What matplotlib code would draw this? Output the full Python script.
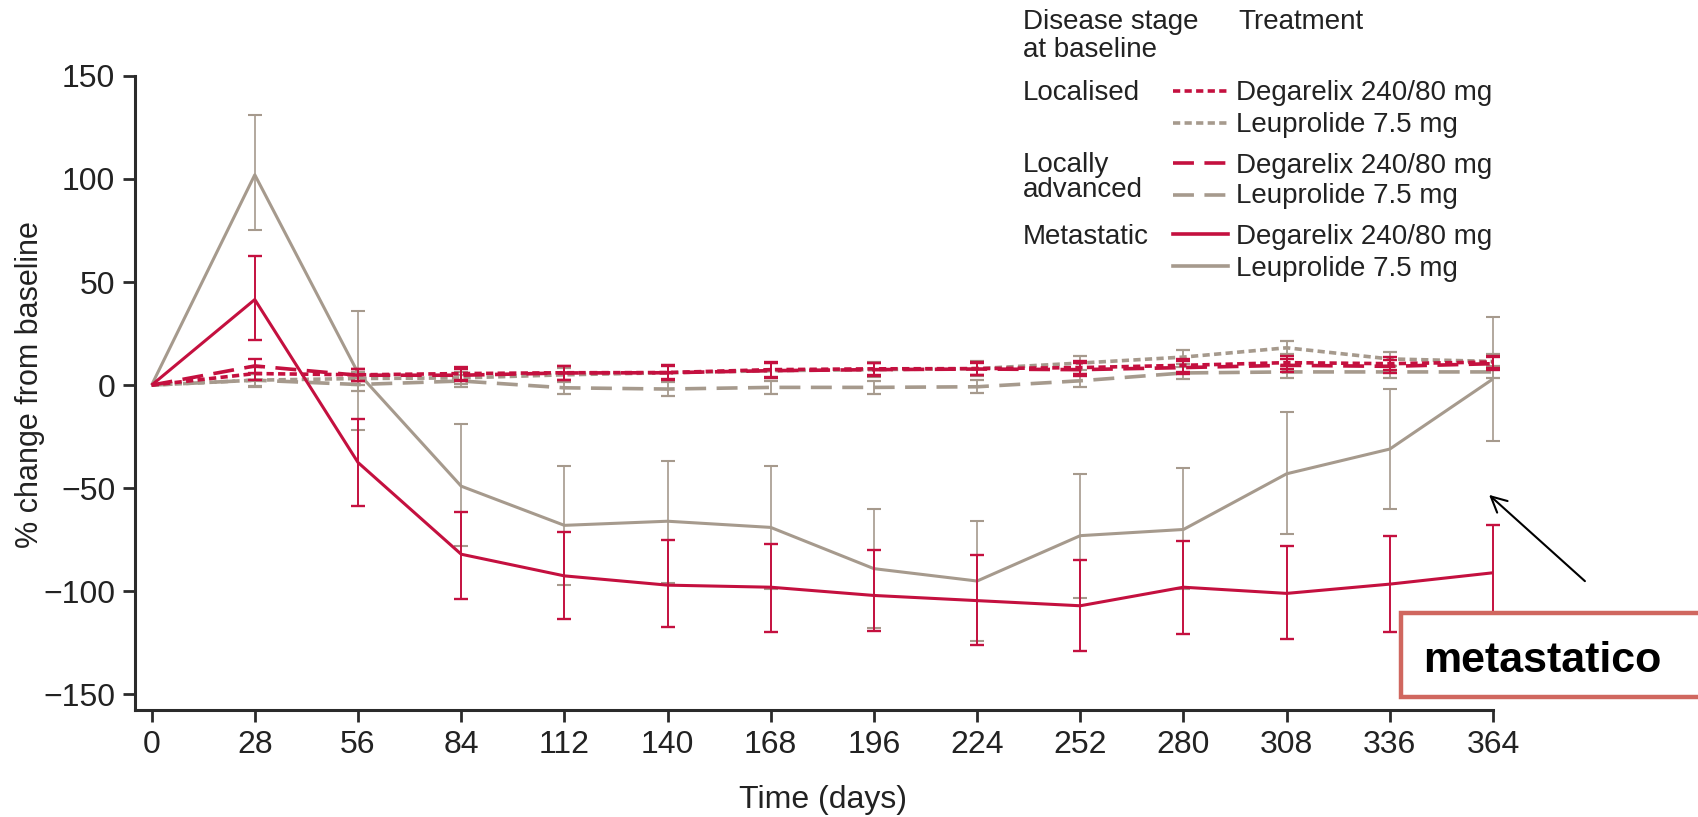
import matplotlib
matplotlib.use("Agg")
import matplotlib.pyplot as plt
from matplotlib.lines import Line2D
from matplotlib.patches import Rectangle

plt.rcParams['font.family'] = ['Liberation Sans', 'DejaVu Sans']

# ---- data ----
days = [0, 28, 56, 84, 112, 140, 168, 196, 224, 252, 280, 308, 336, 364]

met_leu = [0, 102, 6, -49, -68, -66, -69, -89, -95, -73, -70, -43, -31, 3]
met_leu_lo = [0, 75, -22, -78, -97, -96, -99, -118, -124, -103, -99, -72, -60, -27]
met_leu_hi = [0, 131, 36, -19, -39, -37, -39, -60, -66, -43, -40, -13, -2, 33]

met_deg = [0, 41.5, -37.5, -82, -92.5, -97, -98, -102, -104.5, -107, -98, -101, -96.5, -91]
met_deg_lo = [0, 22, -58.5, -103.5, -113.5, -117.5, -119.5, -119, -126, -129, -120.5, -123, -119.5, -113]
met_deg_hi = [0, 62.5, -16.5, -61.5, -71, -75, -77, -80, -82.5, -85, -75.5, -78, -73, -68]

loc_deg = [0, 5.6, 5, 5.6, 6, 6.1, 7.5, 7.9, 8, 8.5, 9.6, 10.9, 10.4, 11.2]
loc_deg_err = [0, 3, 3, 3, 3.5, 3.5, 3.5, 3, 3, 3, 3, 3, 3, 3]
loc_leu = [0, 2.4, 3.2, 3.5, 5, 6, 7, 7.5, 8, 10.7, 13.6, 18.1, 12.7, 11.5]
loc_leu_err = [0, 3, 3, 3, 3.5, 3.8, 3.5, 3.5, 3.5, 3.5, 3.2, 3.2, 3.3, 3.5]
la_deg = [0, 9.3, 4.8, 4.8, 5.9, 6, 7, 7.5, 7.8, 7.5, 8.5, 9.6, 9.1, 10.4]
la_deg_err = [0, 3.2, 3, 3, 3.2, 3.2, 3.5, 3.2, 3, 3, 3.2, 3.2, 3, 3]
la_leu = [0, 2.4, 0.3, 2, -1.3, -1.9, -1.1, -1.1, -0.8, 2.1, 5.9, 6.4, 6.4, 6.4]
la_leu_err = [0, 3.2, 3.2, 3, 3.2, 3.6, 3.2, 3.2, 3.2, 3.2, 3, 3, 3, 3]

y_ticks = [150, 100, 50, 0, -50, -100, -150]
x_ticks = days

stage_labels = ["Localised", "Locally", "advanced", "Metastatic"]
treat_labels = ["Degarelix 240/80 mg", "Leuprolide 7.5 mg"]

# ---- style ----
RED = '#C4103F'
TAN = '#A69A8D'
DOT = (0, (2.0, 1.2))
DASH = (0, (5.8, 2.9))

W, H = 1699, 817
fig = plt.figure(figsize=(W / 100, H / 100), dpi=100)
ax = fig.add_axes([135.4 / W, 1 - 709.7 / H, (1493 - 135.4) / W, (709.7 - 75.8) / H])


def draw(ax, y, lo, hi, color, ls, lw, elw, z):
    ax.plot(days, y, color=color, ls=ls, lw=lw, zorder=z, clip_on=False,
            dash_capstyle='butt', solid_capstyle='butt')
    xe = days[1:]
    ye = y[1:]
    yerr = [[a - b for a, b in zip(ye, lo[1:])], [b - a for a, b in zip(ye, hi[1:])]]
    ax.errorbar(xe, ye, yerr=yerr, fmt='none', ecolor=color, elinewidth=elw,
                capsize=5, capthick=elw + 0.3, zorder=z, clip_on=False)


def sym(y, e):
    return [a - b for a, b in zip(y, e)], [a + b for a, b in zip(y, e)]


lo, hi = sym(la_leu, la_leu_err)
draw(ax, la_leu, lo, hi, TAN, DASH, 2.6, 1.3, 3)
lo, hi = sym(loc_leu, loc_leu_err)
draw(ax, loc_leu, lo, hi, TAN, DOT, 2.6, 1.3, 3)
draw(ax, met_leu, met_leu_lo, met_leu_hi, TAN, '-', 2.2, 1.2, 3)
draw(ax, met_deg, met_deg_lo, met_deg_hi, RED, '-', 2.2, 1.4, 4)
lo, hi = sym(la_deg, la_deg_err)
draw(ax, la_deg, lo, hi, RED, DASH, 2.6, 1.4, 5)
lo, hi = sym(loc_deg, loc_deg_err)
draw(ax, loc_deg, lo, hi, RED, DOT, 2.6, 1.4, 5)

ax.set_xlim(-4.4, 364)
ax.set_ylim(-157.4, 150)
ax.set_xticks(x_ticks)
ax.set_xticklabels([str(d) for d in x_ticks])
ax.set_yticks(y_ticks)
for s in ['top', 'right']:
    ax.spines[s].set_visible(False)
for s in ['left', 'bottom']:
    ax.spines[s].set_linewidth(2.2)
    ax.spines[s].set_color('#2b2b2b')
ax.tick_params(axis='both', direction='out', length=8.5, width=2, color='#2b2b2b',
               labelsize=23, labelcolor='#222222', pad=6)


def fy(px):
    return 1 - px / H


fig.text(30 / W, fy(385), '% change from baseline', fontsize=22, color='#222222',
         rotation=90, ha='center', va='center')
fig.text(823 / W, fy(800), 'Time (days)', fontsize=23, color='#222222',
         ha='center', va='center')

# ---- legend ----
LFS = 20
tc = '#222222'

fig.text(1023 / W, fy(29.3), 'Disease stage', fontsize=LFS, color=tc, ha='left', va='baseline')
fig.text(1023 / W, fy(56.7), 'at baseline', fontsize=LFS, color=tc, ha='left', va='baseline')
fig.text(1238 / W, fy(29.3), 'Treatment', fontsize=LFS, color=tc, ha='left', va='baseline')

fig.text(1023 / W, fy(100), stage_labels[0], fontsize=LFS, color=tc, ha='left', va='baseline')
fig.text(1023 / W, fy(171.7), stage_labels[1], fontsize=LFS, color=tc, ha='left', va='baseline')
fig.text(1023 / W, fy(196.7), stage_labels[2], fontsize=LFS, color=tc, ha='left', va='baseline')
fig.text(1023 / W, fy(244.3), stage_labels[3], fontsize=LFS, color=tc, ha='left', va='baseline')

entries = [
    (90.7, 100, RED, DOT, treat_labels[0]),
    (123.3, 131.7, TAN, DOT, treat_labels[1]),
    (163.3, 173.3, RED, DASH, treat_labels[0]),
    (195.0, 203.3, TAN, DASH, treat_labels[1]),
    (234.3, 244.3, RED, '-', treat_labels[0]),
    (266.0, 276.0, TAN, '-', treat_labels[1]),
]
for ly, ty, c, ls, lab in entries:
    fig.add_artist(Line2D([1173 / W, 1228 / W], [fy(ly), fy(ly)], transform=fig.transFigure,
                          color=c, ls=ls, lw=2.6, dash_capstyle='butt'))
    fig.text(1236 / W, fy(ty), lab, fontsize=LFS, color=tc, ha='left', va='baseline')

# ---- annotation ----
fig.add_artist(Rectangle((1401 / W, fy(697)), 400 / W, 84 / H, transform=fig.transFigure,
                         facecolor='white', edgecolor='#D0675F', lw=3.2, zorder=10))
fig.text(1423 / W, fy(672), 'metastatico', fontsize=31, fontweight='bold', color='black',
         ha='left', va='baseline', zorder=11)
ax.annotate('', xy=(1487, H - 493), xytext=(1587, H - 583), xycoords='figure pixels',
            textcoords='figure pixels',
            arrowprops=dict(arrowstyle='->', lw=1.5, color='black', mutation_scale=28))

fig.savefig('out.png', dpi=100)
